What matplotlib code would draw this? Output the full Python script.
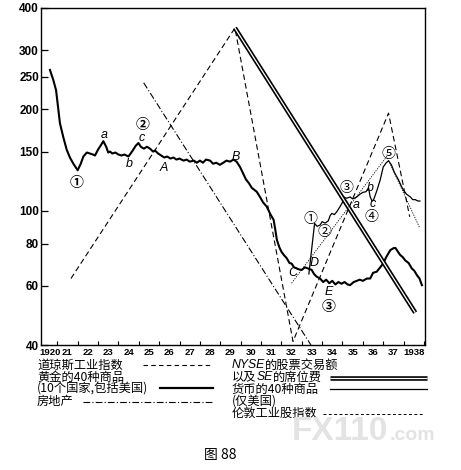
import matplotlib
matplotlib.use("Agg")
import matplotlib.pyplot as plt
from matplotlib.lines import Line2D
import matplotlib.ticker as mticker

plt.rcParams['font.family'] = ['Liberation Sans', 'Noto Sans CJK SC', 'DejaVu Sans']
CJK = ['Noto Sans CJK SC', 'DejaVu Sans']

# ---- data (years, index values) ----
gold_x = [1920.64, 1920.80, 1920.94, 1921.05, 1921.13, 1921.30, 1921.46, 1921.62, 1921.79, 1922.00,
          1922.15, 1922.28, 1922.45, 1922.60, 1922.75, 1922.85, 1923.00, 1923.15, 1923.26, 1923.40,
          1923.50, 1923.59, 1923.70, 1923.85, 1924.00, 1924.15, 1924.30, 1924.49, 1924.60, 1924.70,
          1924.85, 1924.98, 1925.10, 1925.25, 1925.40, 1925.55, 1925.70, 1925.80, 1925.95, 1926.10,
          1926.25, 1926.40, 1926.55, 1926.70, 1926.85, 1927.00, 1927.20, 1927.35, 1927.50, 1927.70,
          1927.85, 1928.00, 1928.15, 1928.30, 1928.50, 1928.65, 1928.80, 1928.98, 1929.15, 1929.30,
          1929.48, 1929.65, 1929.80, 1929.97, 1930.10, 1930.26, 1930.40, 1930.55, 1930.79, 1930.95,
          1931.10, 1931.28, 1931.45, 1931.62, 1931.70, 1931.78, 1931.90, 1932.00, 1932.12, 1932.26,
          1932.40, 1932.50, 1932.62, 1932.75, 1932.88, 1933.00, 1933.15, 1933.30, 1933.49, 1933.60,
          1933.73, 1933.90, 1934.05, 1934.20, 1934.35, 1934.50, 1934.65, 1934.80, 1934.95, 1935.10,
          1935.25, 1935.37, 1935.55, 1935.70, 1935.85, 1936.00, 1936.20, 1936.36, 1936.50, 1936.68,
          1936.85, 1937.00, 1937.15, 1937.35, 1937.50, 1937.60, 1937.70, 1937.83, 1937.95, 1938.08,
          1938.25, 1938.40, 1938.52, 1938.65, 1938.78, 1938.90]
gold_y = [262, 245, 228, 200, 182, 165, 152, 144, 138, 132,
          138, 145, 149, 148, 147, 146, 152, 157, 161, 155,
          149, 150, 148, 149, 147, 146, 147, 145, 148, 151,
          156, 159, 155, 153, 155, 153, 150, 151, 148, 146,
          144, 145, 143, 144, 142, 143, 141, 142, 140, 141,
          139, 141, 139, 142, 141, 138, 139, 137, 139, 141,
          140, 142, 140, 135, 130, 124, 121, 117, 114, 110,
          106, 103, 98, 94, 88, 82, 78, 75.7, 74, 72.4,
          70, 69.8, 68, 67.5, 67, 66.8, 68, 67.5, 66.8, 65,
          63.8, 63, 61.5, 62.5, 61, 62, 60.5, 61.5, 60.8, 61.5,
          60.5, 60.2, 61.5, 62, 62.5, 62, 63, 63, 65.5, 66,
          68, 69.8, 73, 76.5, 77.5, 77.6, 76, 74, 73, 71.3,
          70, 67.5, 66.5, 64.5, 63, 60.2]

usd_x = [1933.35, 1933.63, 1933.75, 1933.90, 1934.00, 1934.15, 1934.30, 1934.40, 1934.48, 1934.60,
         1934.72, 1934.88, 1935.00, 1935.05, 1935.20, 1935.37, 1935.50, 1935.70, 1935.85, 1936.00,
         1936.15, 1936.28, 1936.36, 1936.45, 1936.53, 1936.69, 1936.85, 1937.00, 1937.15, 1937.26,
         1937.40, 1937.55, 1937.75, 1937.90, 1938.00, 1938.15, 1938.33, 1938.45, 1938.57, 1938.70,
         1938.80]
usd_y = [65, 91.8, 90, 90.8, 92.9, 92, 93.4, 97, 98.3, 97.5,
         99.4, 103, 106, 110, 109, 110, 108.5, 110, 112, 113.5,
         114, 117, 110, 107, 108, 115, 123.6, 135, 139, 140.8,
         137, 130, 123.6, 118, 115, 112, 110, 108, 108, 107,
         107]

dow_x = [1921.67, 1929.72, 1932.57, 1937.26, 1938.30]
dow_y = [63, 349, 41, 195, 96]

realty_x = [1925.24, 1933.45]
realty_y = [240, 40]

nyse_x = [1929.72, 1938.57]
nyse_y = [349, 49.9]

london_x = [1932.50, 1937.17, 1938.80]
london_y = [61, 145, 88.8]

y_ticks = [40, 60, 80, 100, 150, 200, 250, 300, 400]
year_ticks = list(range(1921, 1940))
year_label_pos = [1920.62] + [y + 0.5 for y in range(1921, 1939)]
year_labels = ['1920'] + [str(y)[2:] for y in range(1921, 1938)] + ['1938']

W, H = 461, 470
fig = plt.figure(figsize=(W / 100, H / 100), dpi=100)
ax = fig.add_axes([41 / W, 1 - 345 / H, (425 - 41) / W, 337 / H])
ax.set_yscale('log')
ax.set_xlim(1920.2, 1939.05)
ax.set_ylim(40, 400)

ax.plot(gold_x, gold_y, color='black', lw=1.5, solid_joinstyle='round')
ax.plot(usd_x, usd_y, color='black', lw=0.9)
ax.plot(dow_x, dow_y, color='black', lw=0.8, dashes=(5, 3))
ax.plot(realty_x, realty_y, color='black', lw=0.8, dashes=(6, 2, 1, 2))
ax.plot(nyse_x, nyse_y, color='black', lw=3.3, solid_capstyle='butt')
ax.plot(nyse_x, nyse_y, color='white', lw=0.9, solid_capstyle='butt')
ax.plot(london_x, london_y, color='black', lw=0.6, dashes=(1.5, 1.5))

# axes styling
ax.yaxis.set_major_locator(mticker.FixedLocator(y_ticks))
ax.yaxis.set_major_formatter(mticker.FixedFormatter([str(v) for v in y_ticks]))
ax.yaxis.set_minor_locator(mticker.NullLocator())
ax.tick_params(axis='y', which='major', direction='in', length=5, width=0.9,
               labelsize=8.5, pad=1.5)
for lab in ax.get_yticklabels():
    lab.set_fontweight('bold')

ax.xaxis.set_major_locator(mticker.FixedLocator(year_ticks))
ax.xaxis.set_major_formatter(mticker.NullFormatter())
ax.xaxis.set_minor_locator(mticker.FixedLocator(year_label_pos))
ax.xaxis.set_minor_formatter(mticker.FixedFormatter(year_labels))
ax.tick_params(axis='x', which='major', direction='in', length=3, width=0.8)
ax.tick_params(axis='x', which='minor', length=0, labelsize=6.8, pad=2)
for lab in ax.get_xticklabels(minor=True):
    lab.set_fontweight('bold')
for s in ax.spines.values():
    s.set_linewidth(1.0)

# annotations
circ = dict(family=CJK, fontsize=10, ha='center', va='center')
ital = dict(fontsize=9, style='italic', ha='center', va='center')
ax.text(1921.97, 121, '①', fontweight='bold', **circ)
ax.text(1925.20, 180, '②', fontweight='bold', **circ)
ax.text(1934.30, 52, '③', fontweight='bold', **circ)
ax.text(1933.41, 94.6, '①', **circ)
ax.text(1934.09, 86.8, '②', **circ)
ax.text(1935.17, 117, '③', **circ)
ax.text(1936.40, 96.1, '④', **circ)
ax.text(1937.25, 148, '⑤', **circ)
ax.text(1923.29, 168, 'a', **ital)
ax.text(1924.52, 137.8, 'b', **ital)
ax.text(1925.16, 164, 'c', **ital)
ax.text(1926.25, 134, 'A', **ital)
ax.text(1929.77, 145, 'B', **ital)
ax.text(1932.54, 65.3, 'C', **ital)
ax.text(1933.62, 69.9, 'D', **ital)
ax.text(1934.35, 57.6, 'E', **ital)
ax.text(1935.66, 104, 'a', **ital)
ax.text(1936.35, 116.7, 'b', **ital)
ax.text(1936.48, 105, 'c', **ital)

# ---- legend (drawn in figure pixel coordinates) ----
def fx(px):
    return px / W

def fy(py):
    return 1 - py / H

fig.canvas.draw()
renderer = fig.canvas.get_renderer()
leg_fs = 8.8


def put(x, y, pieces):
    """pieces: list of (text, italic)"""
    cur = x
    for txt, it in pieces:
        t = fig.text(fx(cur), fy(y), txt, family=CJK if not it else ['Liberation Sans'],
                     style='italic' if it else 'normal', fontsize=leg_fs, va='center', ha='left')
        bb = t.get_window_extent(renderer=renderer)
        cur += bb.width


def seg(x0, x1, y, color='black', **kw):
    fig.add_artist(Line2D([fx(x0), fx(x1)], [fy(y), fy(y)], transform=fig.transFigure,
                          color=color, **kw))

put(37, 365, [('道琼斯工业指数', False)])
put(37, 377, [('黄金的40种商品', False)])
put(37, 389, [('(10个国家,包括美国)', False)])
put(37, 401, [('房地产', False)])
put(232, 365, [('NYSE', True), ('的股票交易额', False)])
put(232, 377, [('以及', False), ('SE', True), ('的席位费', False)])
put(232, 389, [('货币的40种商品', False)])
put(232, 401, [('(仅美国)', False)])
put(232, 413, [('伦敦工业股指数', False)])

seg(143, 213, 365, lw=0.8, dashes=(4, 3))
seg(160, 213, 388, lw=1.6)
seg(83, 213, 402, lw=0.8, dashes=(6, 2, 1, 2))
seg(330, 427, 378, lw=3.3, solid_capstyle='butt')
seg(330, 427, 378, color='white', lw=0.9, solid_capstyle='butt')
seg(330, 427, 389, lw=0.9)
seg(323, 423, 414, lw=0.7, dashes=(3, 2.5))

# watermark
fig.text(fx(292), fy(432), 'FX110', fontsize=24, fontweight='bold', color='#e3e3e3',
         va='center', ha='left', family=['Liberation Sans'])
fig.text(fx(390), fy(436), '.com', fontsize=14, fontweight='bold', color='#e3e3e3',
         va='center', ha='left', family=['Liberation Sans'])

fig.text(fx(220), fy(455), '图 88', family=CJK, fontsize=10, ha='center', va='center')

fig.savefig('out.png', dpi=100)
